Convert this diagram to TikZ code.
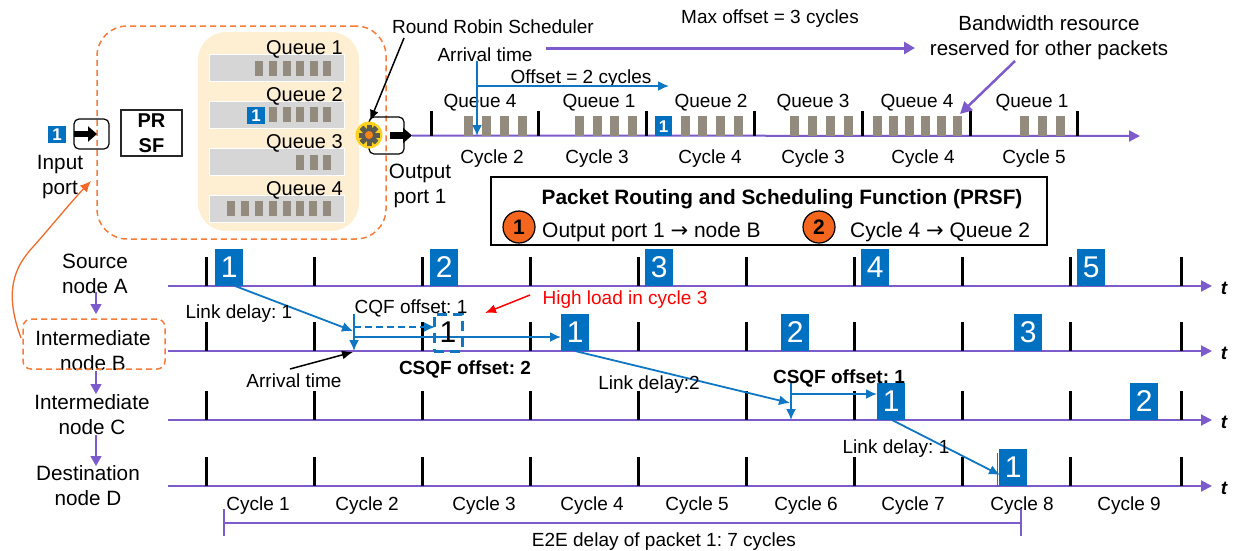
\documentclass[tikz,border=0pt]{standalone}
\usepackage{fontspec}
\setmainfont{Liberation Sans}
\newfontfamily\arrowfont{DejaVu Sans}
\usepackage{xcolor}
\usepackage{tikz}
\usetikzlibrary{arrows.meta,positioning,calc}
\definecolor{pktblue}{HTML}{0070C0}
\definecolor{linkblue}{HTML}{0F76C4}
\definecolor{axispurple}{HTML}{7E5BCB}
\definecolor{dashorange}{HTML}{F77B3B}
\definecolor{curveorange}{HTML}{F26A2A}
\definecolor{circorange}{HTML}{F4661E}
\definecolor{barbrown}{HTML}{938B7E}
\definecolor{queuegray}{HTML}{D6D6D6}
\definecolor{creamfill}{HTML}{FFEFD2}
\definecolor{gearyellow}{HTML}{FFD21F}
\definecolor{geardark}{HTML}{5A5A50}
\newcommand{\rarr}{{\arrowfont\fontsize{21}{25}\selectfont →}}
\begin{document}
\frenchspacing
\begin{tikzpicture}[
  x=1pt, y=-1pt,
  font=\fontsize{19}{25}\selectfont,
  lab/.style={inner sep=0pt, align=center, yshift=-2pt},
  qlab/.style={lab, font=\fontsize{20}{25}\selectfont},
  sidelab/.style={lab, font=\fontsize{20.7}{25}\selectfont},
  boldlab/.style={lab, font=\fontsize{19}{25}\selectfont\bfseries},
  pkt/.style={fill=pktblue, text=white, inner sep=0pt, minimum width=28pt, minimum height=37pt, anchor=south west, font=\fontsize{30}{30}\selectfont},
  minipkt/.style={fill=pktblue, text=white, inner sep=0pt, minimum width=18pt, minimum height=17pt, anchor=north west, font=\fontsize{17}{17}\selectfont\bfseries},
  bar/.style={fill=barbrown, inner sep=0pt, minimum width=9pt, minimum height=20pt, anchor=south west},
  qbar/.style={fill=barbrown, inner sep=0pt, minimum width=8pt, minimum height=15pt, anchor=north west},
  queue/.style={draw=white, line width=1pt, fill=queuegray, inner sep=0pt, minimum width=135pt, minimum height=27pt, anchor=north west},
  port/.style={draw=black, line width=1.2pt, rounded corners=5pt, inner sep=0pt, minimum width=35pt},
  axisline/.style={draw=axispurple, line width=2pt},
  axisarr/.style={axisline, -{Triangle[length=11pt,width=11pt]}},
  tick/.style={draw=black, line width=3pt},
  link/.style={draw=linkblue, line width=1.8pt, -{Latex[length=11pt,width=10pt]}},
  plain/.style={draw=linkblue, line width=1.8pt},
  fat/.style={draw=black, line width=6.5pt, -{Triangle[length=9pt,width=15pt]}},
  hop/.style={draw=axispurple, line width=1.5pt, -{Triangle[length=10pt,width=11pt]}},
  note/.style={draw=black, line width=1.5pt, -{Latex[length=11pt,width=9pt]}},
  cdash/.style={draw=dashorange, line width=1.5pt, dash pattern=on 6pt off 4pt},
  num/.style={circle, draw=black, line width=1.2pt, fill=circorange, inner sep=0pt, minimum size=32pt, font=\fontsize{21}{21}\selectfont\bfseries}
]
\useasboundingbox (0,0) rectangle (1233,550);

\node[cdash, rounded corners=30pt, minimum width=289pt, minimum height=213pt, inner sep=0pt] (switch) at (241.5,132.5) {};
\node[fill=creamfill, rounded corners=28pt, minimum width=161pt, minimum height=199pt, inner sep=0pt] (buffer) at (278.5,131.5) {};
\node[queue] (q1) at (208.5,54) {};
\node[queue] (q2) at (208.5,101) {};
\node[queue] (q3) at (208.5,148) {};
\node[queue] (q4) at (208.5,195) {};
\foreach \x in {255,269,282.5,296,310,323} \node[qbar] at (\x,61) {};
\foreach \x in {269,282.5,296,310,323} \node[qbar] at (\x,107) {};
\foreach \x in {296,310,323} \node[qbar] at (\x,155) {};
\foreach \x in {227,241,255,269,283,296,309,323} \node[qbar] at (\x,201) {};
\node[minipkt] (pq) at (247,107) {1};
\node[qlab, anchor=east] at (343,47) {Queue 1};
\node[qlab, anchor=east] at (343,94) {Queue 2};
\node[qlab, anchor=east] at (343,141) {Queue 3};
\node[qlab, anchor=east] at (343,188) {Queue 4};

\node[minipkt] (pin) at (48,126) {1};
\node[port, minimum height=30pt] (inport) at (91.5,134) {};
\coordinate (infrom) at (74,134);
\coordinate (into) at (97,134);
\draw[fat] (infrom) -- (into);
\node[sidelab] at (60,175.5) {Input\\port};
\node[draw=black!85, line width=1.5pt, minimum width=61pt, minimum height=46pt, inner sep=0pt, align=center, font=\fontsize{20}{25}\selectfont\bfseries] (prsf) at (151.5,133) {PR\\SF};

\node[port, minimum height=37pt] (outport) at (386.5,135.5) {};
\node[circle, fill=gearyellow, minimum size=27pt, inner sep=0pt] (gear) at (369,135) {};
\foreach \a in {0,45,...,315} \fill[geardark, rotate around={\a:(gear.center)}] (366.5,124.5) rectangle (371.5,145.5);
\node[circle, draw=geardark, line width=2.5pt, fill=circorange!80!yellow, minimum size=11pt, inner sep=0pt] at (gear.center) {};
\coordinate (outfrom) at (390,135.5);
\coordinate (outto) at (412,135.5);
\draw[fat] (outfrom) -- (outto);
\node[sidelab] at (420,183.5) {Output\\port 1};

\coordinate (topend) at (1140,136);
\draw[axisarr] (outto) -- (topend);
\foreach \x in {431,538,646,754,862,970,1077} \draw[tick] (\x,111) -- (\x,136);
\foreach \x in {464,482,500,518,575,593,610,628,681,698,716,734,790,808,826,844,872.5,888.5,904.5,920.5,937,953,1020,1038,1055.5} \node[bar] at (\x,136) {};
\node[minipkt, minimum height=20pt, minimum width=17pt] (pout) at (655,116) {1};
\foreach \x/\t in {480/Queue 4,599/Queue 1,711/Queue 2,813/Queue 3,917/Queue 4,1032/Queue 1} \node[lab] at (\x,101) {\t};
\foreach \x/\t in {492/Cycle 2,597/Cycle 3,710/Cycle 4,813/Cycle 3,923/Cycle 4,1034/Cycle 5} \node[lab] at (\x,157) {\t};

\node[lab] (rrs) at (493,25) {Round Robin Scheduler};
\coordinate (rrsfrom) at (404,38);
\draw[note] (rrsfrom) -- (370,121);
\node[lab] (maxoff) at (770,17) {Max offset = 3 cycles};
\node[lab] (arrtop) at (485,53) {Arrival time};
\coordinate (maxfrom) at (546,48);
\coordinate (maxto) at (915,48);
\draw[draw=axispurple, line width=3pt, -{Triangle[length=11pt,width=12pt]}] (maxfrom) -- (maxto);
\node[lab, font=\fontsize{20.5}{25}\selectfont] (bwres) at (1049,35.5) {Bandwidth resource\\reserved for other packets};
\coordinate (bwfrom) at (1015,61);
\coordinate (bwto) at (960,114);
\draw[draw=axispurple, line width=2.5pt, -{Triangle[length=12pt,width=12pt]}] (bwfrom) -- (bwto);
\node[lab] (off2) at (581,77) {Offset = 2 cycles};
\coordinate (arra) at (477,61);
\coordinate (arrb) at (477,136);
\coordinate (offa) at (477,86);
\coordinate (offb) at (669,86);
\draw[link] (arra) -- (arrb);
\draw[link] (offa) -- (offb);

\node[draw=black, line width=1.5pt, minimum width=556pt, minimum height=68pt, inner sep=0pt] (fnbox) at (769,211) {};
\node[lab, font=\fontsize{20.8}{25}\selectfont\bfseries] at (782,197) {Packet Routing and Scheduling Function (PRSF)};
\node[num] (n1) at (519,227) {1};
\node[lab, anchor=west, font=\fontsize{21}{25}\selectfont] at (542,230) {Output port 1 \rarr{} node B};
\node[num] (n2) at (819,227) {2};
\node[lab, anchor=west, font=\fontsize{21}{25}\selectfont] at (850,230) {Cycle 4 \rarr{} Queue 2};

\foreach \n/\y/\h in {a/286/257,b/351/322,c/420/391,d/486/457} {
  \coordinate (\n0) at (168,\y);
  \coordinate (\n1) at (1212,\y);
  \draw[axisarr] (\n0) -- (\n1);
  \foreach \x in {206,314,422,530,638,746,854,962,1070,1181} \draw[tick] (\x,\h) -- (\x,\y);
  \node[lab, font=\fontsize{19}{19}\selectfont\bfseries\itshape] at (1224,\y) {t};
}

\node[sidelab] (srca) at (95,271.5) {Source\\node A};
\node[sidelab] (intb) at (93,348.5) {Intermediate\\node B};
\node[sidelab] (intc) at (92,412.5) {Intermediate\\node C};
\node[sidelab] (dstd) at (88,483.5) {Destination\\node D};
\node[cdash, rounded corners=8pt, minimum width=142pt, minimum height=50pt, inner sep=0pt] (intbox) at (94,344) {};
\coordinate (h1) at (96,292);
\coordinate (h2) at (96,314);
\coordinate (h3) at (96,371);
\coordinate (h4) at (96,394);
\coordinate (h5) at (96,435);
\coordinate (h6) at (96,466);
\draw[hop] (h1) -- (h2);
\draw[hop] (h3) -- (h4);
\draw[hop] (h5) -- (h6);
\coordinate (cv) at (21,338);
\coordinate (cw) at (91,181);
\draw[draw=curveorange, line width=1.3pt, -{Latex[length=11pt,width=10pt]}] (cv) .. controls (4,292) and (14,268) .. (32,248) .. controls (50,228) and (70,203) .. (cw);

\coordinate (s1) at (235,286);
\coordinate (t1) at (353,331);
\coordinate (v1a) at (354,314);
\coordinate (v1b) at (354,351);
\coordinate (w1a) at (354,327);
\coordinate (w1b) at (435,327);
\coordinate (x1a) at (354,337);
\coordinate (x1b) at (561,337);
\draw[link] (s1) -- (t1);
\draw[link] (v1a) -- (v1b);
\draw[link, dash pattern=on 7pt off 4pt] (w1a) -- (w1b);
\draw[link] (x1a) -- (x1b);
\node[draw=linkblue, line width=3pt, dash pattern=on 10pt off 6pt, minimum width=28pt, minimum height=37pt, inner sep=0pt, font=\fontsize{30}{30}\selectfont] (ghost) at (448,332.5) {1};

\coordinate (s2) at (575,351);
\coordinate (t2) at (790,403);
\coordinate (v2a) at (791,383);
\coordinate (v2b) at (791,420);
\coordinate (w2a) at (791,394);
\coordinate (w2b) at (877,394);
\draw[link] (s2) -- (t2);
\draw[link] (v2a) -- (v2b);
\draw[link] (w2a) -- (w2b);

\coordinate (s3) at (892,420);
\coordinate (t3) at (1000,475);
\coordinate (v3a) at (997.5,453);
\coordinate (v3b) at (997.5,487);
\draw[link] (s3) -- (t3);
\draw[plain] (v3a) -- (v3b);

\foreach \n/\x/\t in {a1/215/1,a2/430/2,a3/645/3,a4/861/4,a5/1077/5} \node[pkt] (p\n) at (\x,286) {\t};
\foreach \n/\x/\t in {b1/561/1,b2/781/2,b3/1014/3} \node[pkt] (p\n) at (\x,351) {\t};
\foreach \n/\x/\t in {c1/877/1,c2/1130/2} \node[pkt] (p\n) at (\x,420) {\t};
\node[pkt] (pd1) at (999,486) {1};

\node[lab] at (239,312) {Link delay: 1};
\node[lab] at (411,306) {CQF offset: 1};
\node[lab, text=red] (hiload) at (625,298) {High load in cycle 3};
\coordinate (hifrom) at (530,295);
\coordinate (hito) at (485,313);
\draw[draw=red, line width=1.5pt, -{Latex[length=11pt,width=9pt]}] (hifrom) -- (hito);
\node[boldlab] at (465,367) {CSQF offset: 2};
\node[lab] (arrlow) at (294,379) {Arrival time};
\coordinate (alfrom) at (290,369);
\coordinate (alto) at (353,352);
\draw[note] (alfrom) -- (alto);
\node[lab] at (649,383) {Link delay:2};
\node[boldlab] at (839,376) {CSQF offset: 1};
\node[lab] at (896,447) {Link delay: 1};

\foreach \x/\t in {258/Cycle 1,367/Cycle 2,484/Cycle 3,592/Cycle 4,697/Cycle 5,806/Cycle 6,913/Cycle 7,1022/Cycle 8,1129/Cycle 9} \node[lab] at (\x,504) {\t};
\coordinate (e2ea) at (224,523);
\coordinate (e2eb) at (1021,523);
\draw[draw=axispurple, line width=1.5pt] (e2ea) -- (e2eb);
\draw[draw=axispurple, line width=1.5pt] ($(e2ea)+(0,-14)$) -- ($(e2ea)+(0,13)$);
\draw[draw=axispurple, line width=1.5pt] ($(e2eb)+(0,-14)$) -- ($(e2eb)+(0,13)$);
\node[lab] at (664,540) {E2E delay of packet 1: 7 cycles};
\end{tikzpicture}
\end{document}
